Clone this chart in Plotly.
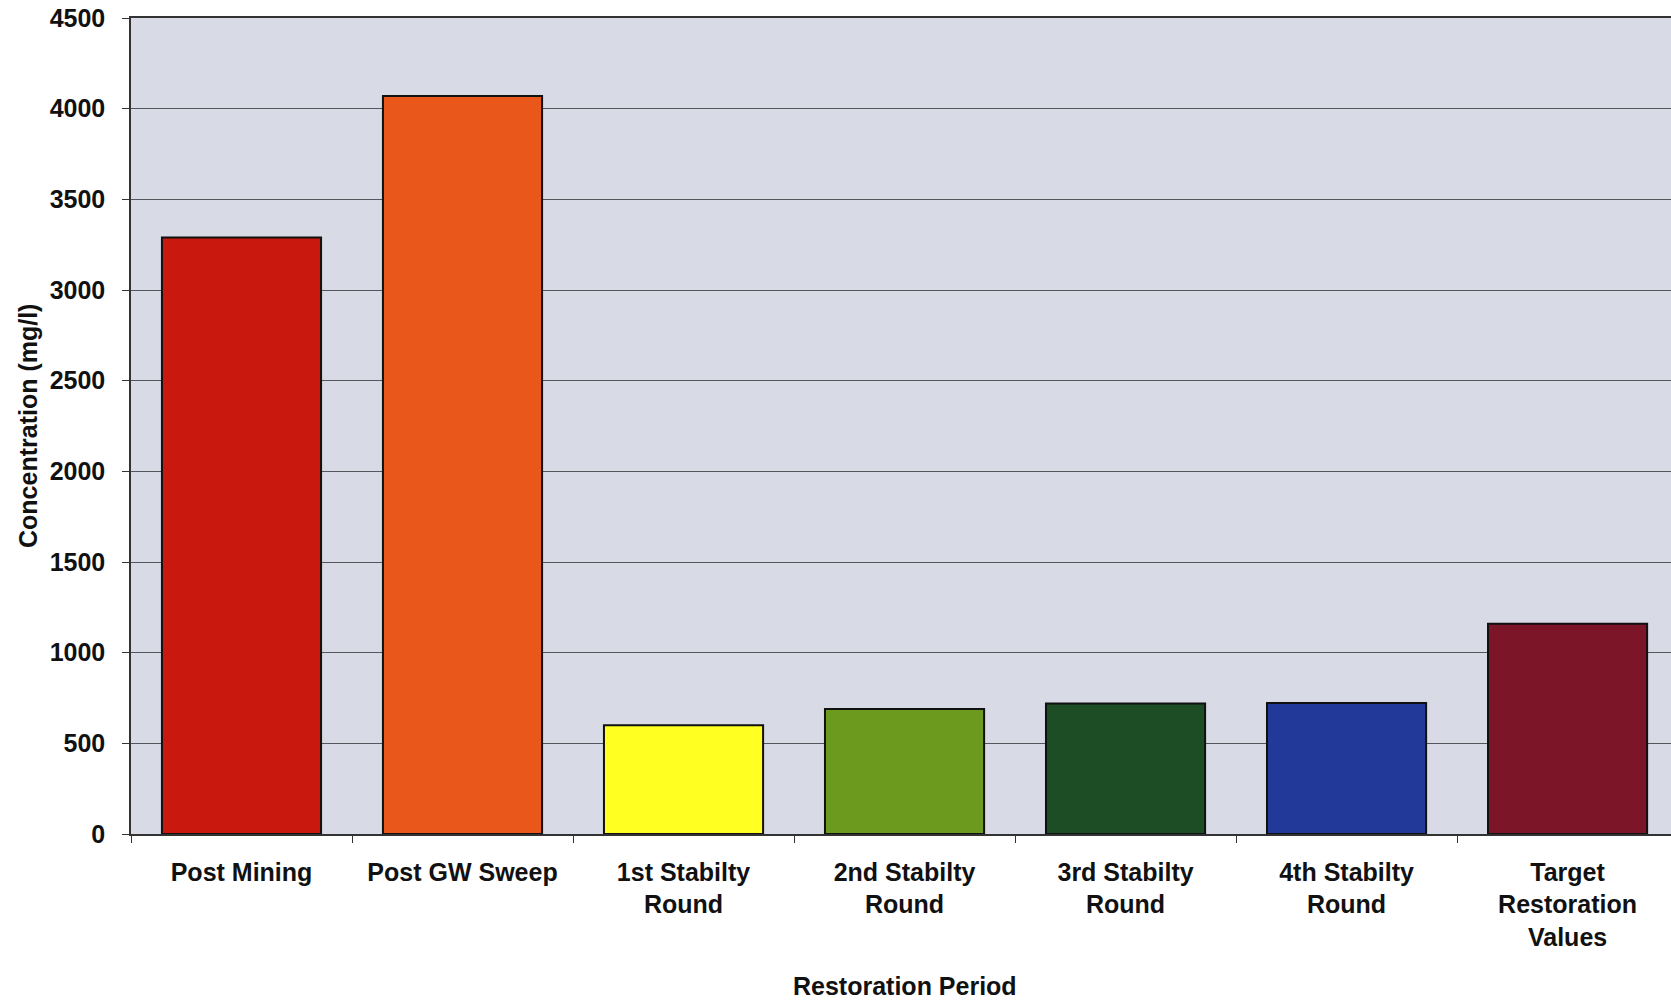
import plotly.graph_objects as go

# Restoration period categories (line breaks as printed under the axis)
categories = [
    "Post Mining",
    "Post GW Sweep",
    "1st Stabilty<br>Round",
    "2nd Stabilty<br>Round",
    "3rd Stabilty<br>Round",
    "4th Stabilty<br>Round",
    "Target<br>Restoration<br>Values",
]
# Concentration in mg/l for each period
concentrations = [3290, 4070, 600, 690, 720, 722, 1160]
bar_colors = ["#C9180E", "#E9581A", "#FFFF22", "#6C9A1E", "#1D4D24", "#23399A", "#7C1528"]

y_ticks = [0, 500, 1000, 1500, 2000, 2500, 3000, 3500, 4000, 4500]

FONT = "Liberation Sans, Arial, Helvetica, sans-serif"
W, H = 1671, 1000
L, T, B = 131, 18, 166

fig = go.Figure(
    go.Bar(
        x=categories,
        y=concentrations,
        width=0.72,
        marker=dict(color=bar_colors, line=dict(color="#111111", width=2)),
        hoverinfo="skip",
    )
)

fig.update_layout(
    width=W,
    height=H,
    margin=dict(l=L, r=0, t=T, b=B, pad=0),
    paper_bgcolor="white",
    plot_bgcolor="#D8DAE6",
    showlegend=False,
    font=dict(family=FONT, size=25, color="#111111", weight=700),
)

fig.update_xaxes(
    type="category",
    range=[-0.5, 6.468],
    showgrid=False,
    showline=True,
    mirror=True,
    linecolor="#333333",
    linewidth=1.5,
    ticks="outside",
    ticklen=7,
    tickcolor="#333333",
    tickson="boundaries",
    tickfont=dict(family=FONT, size=25, color="#111111", weight=700),
    ticklabelstandoff=15,
    zeroline=False,
)

fig.update_yaxes(
    range=[0, 4500],
    tickmode="array",
    tickvals=y_ticks,
    showgrid=True,
    gridcolor="#55555C",
    gridwidth=1.2,
    showline=True,
    linecolor="#333333",
    linewidth=1.5,
    ticks="outside",
    ticklen=7,
    tickcolor="#333333",
    tickfont=dict(family=FONT, size=25, color="#111111", weight=700),
    ticklabelstandoff=12,
    zeroline=False,
)

# Axis titles
fig.add_annotation(
    text="Concentration (mg/l)",
    xref="paper", yref="paper",
    x=0, y=0.5,
    xanchor="center", yanchor="middle",
    xshift=-(L - 28),
    textangle=-90,
    showarrow=False,
    font=dict(family=FONT, size=25, color="#111111", weight=700),
)
fig.add_annotation(
    text="Restoration Period",
    xref="x", yref="paper",
    x=categories[3], y=0,
    xanchor="center", yanchor="middle",
    yshift=-152,
    showarrow=False,
    font=dict(family=FONT, size=25, color="#111111", weight=700),
)

fig.write_html("out.html")
